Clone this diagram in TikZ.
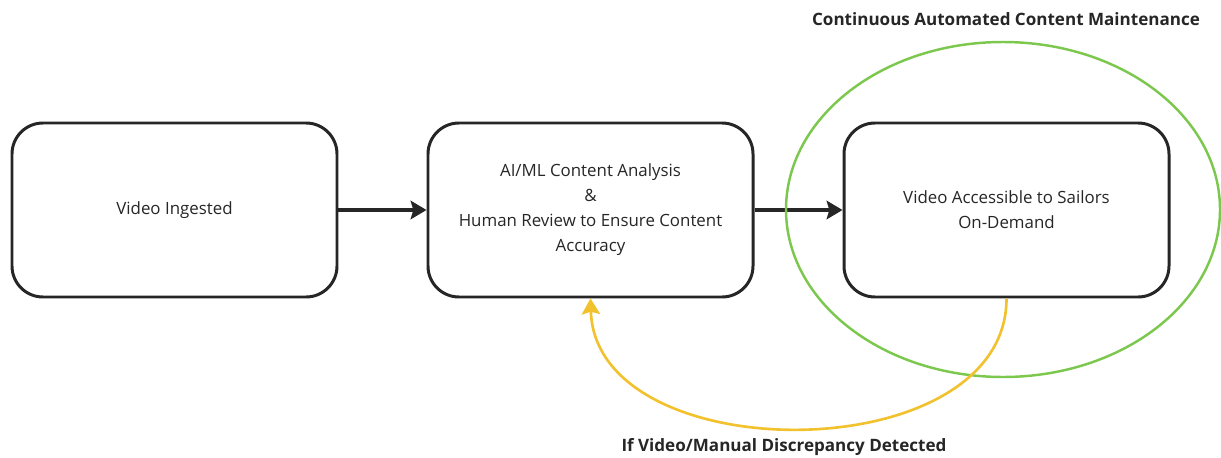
\documentclass[tikz,border=0pt]{standalone}
\usepackage{fontspec}
\setmainfont{Open Sans}
\usetikzlibrary{arrows.meta}

\definecolor{ink}{HTML}{262626}
\definecolor{loopgreen}{HTML}{7CC84E}
\definecolor{flagyellow}{HTML}{F2C12E}

\begin{document}
\begin{tikzpicture}[
        stage/.style={draw=ink, line width=1.7pt, rounded corners=0.62cm,
            minimum width=6.5cm, minimum height=3.48cm, align=center,
            text=ink, font=\fontsize{9.6}{14.2}\selectfont},
        flow/.style={draw=ink, line width=1.8pt,
            -{Stealth[length=9pt, width=10.5pt, inset=1.5pt]}},
        caption/.style={text=ink, font=\fontsize{9.7}{12}\selectfont\bfseries}
    ]
        \useasboundingbox (0,0) rectangle (24.42,9.14);

        \node[stage] (ingest) at (3.49,4.94) {Video Ingested};
        \node[stage] (review) at (11.81,4.94) {AI/ML Content Analysis\\ \&\\ Human Review to Ensure Content\\ Accuracy};
        \node[stage] (access) at (20.13,4.94) {Video Accessible to Sailors\\ On-Demand};

        \draw[flow] (ingest) -- (review);
        \draw[flow] (review) -- (access);

        \draw[loopgreen, line width=1.4pt] (20.06,4.95) ellipse (4.34cm and 3.35cm);
        \draw[flow, draw=flagyellow, line width=1.5pt]
            (access.south) .. controls +(0,-3.46) and +(0.1,-3.46) .. (review.south);

        \node[caption] (maint) at (20.12,8.76) {Continuous Automated Content Maintenance};
        \node[caption] (discrep) at (15.68,0.2) {If Video/Manual Discrepancy Detected};

    \end{tikzpicture}
\end{document}
